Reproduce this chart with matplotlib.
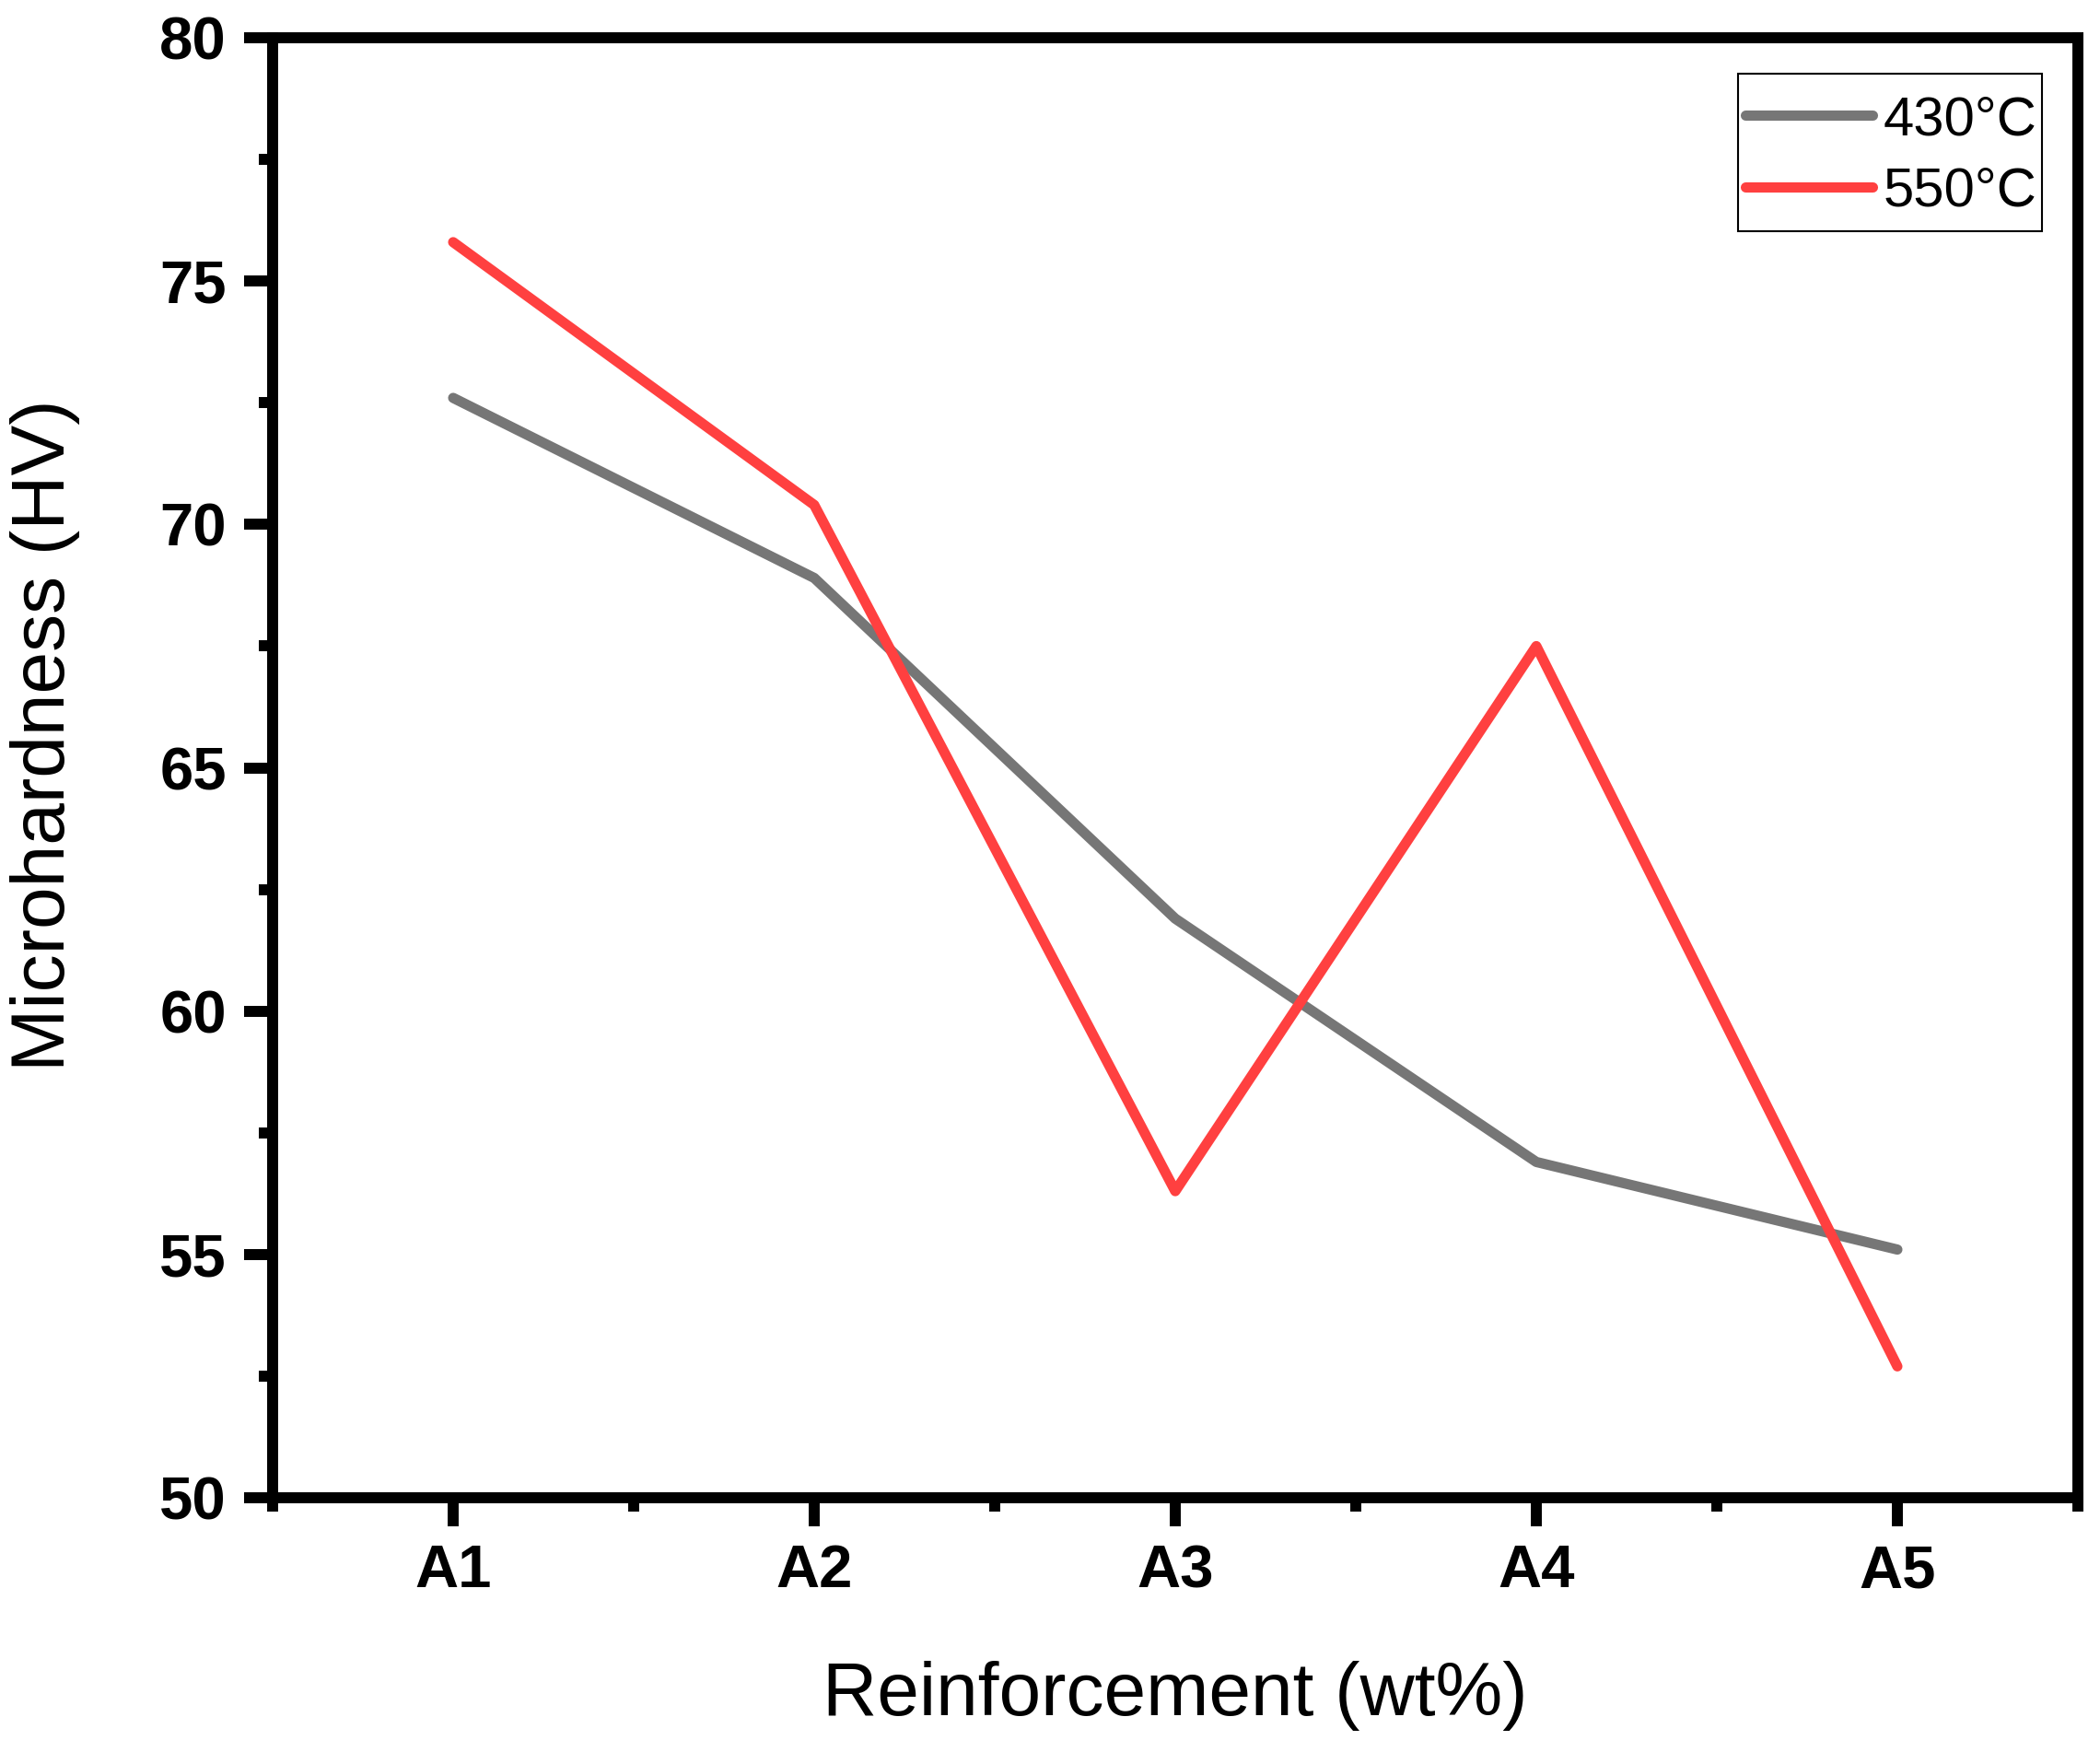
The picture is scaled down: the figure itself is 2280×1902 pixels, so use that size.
import matplotlib
matplotlib.use("Agg")
import matplotlib.pyplot as plt
from matplotlib.ticker import MultipleLocator, FixedLocator
from matplotlib.patches import Rectangle

categories = ["A1", "A2", "A3", "A4", "A5"]
hv_430 = [72.6, 68.9, 61.9, 56.9, 55.1]
hv_550 = [75.8, 70.4, 56.3, 67.5, 52.7]
series_labels = ["430\u00b0C", "550\u00b0C"]
yticks = [50, 55, 60, 65, 70, 75, 80]

plt.rcParams['font.family'] = ['Liberation Sans', 'DejaVu Sans']

W, H = 2280, 1902
fig = plt.figure(figsize=(W / 100, H / 100), dpi=100)
ax = fig.add_axes([296 / W, 1 - 1626 / H, (2256 - 296) / W, (1626 - 41) / H])

x = list(range(1, len(categories) + 1))
ax.plot(x, hv_430, color="#767676", lw=8, solid_capstyle="round",
        solid_joinstyle="round", label=series_labels[0])
ax.plot(x, hv_550, color="#FF4040", lw=8, solid_capstyle="round",
        solid_joinstyle="round", label=series_labels[1])

ax.set_xlim(0.5, 5.5)
ax.set_ylim(50, 80)
ax.set_xticks(x)
ax.set_xticklabels(categories)
ax.xaxis.set_minor_locator(FixedLocator([0.5, 1.5, 2.5, 3.5, 4.5, 5.5]))
ax.set_yticks(yticks)
ax.yaxis.set_minor_locator(MultipleLocator(2.5))

for s in ax.spines.values():
    s.set_linewidth(8.6)
    s.set_color("black")

ax.tick_params(which="major", direction="out", length=22, width=8.6,
               labelsize=47, pad=14, top=False, right=False)
ax.tick_params(which="minor", direction="out", length=11, width=8.6,
               top=False, right=False)
for lab in ax.get_xticklabels() + ax.get_yticklabels():
    lab.set_fontweight("bold")

fig.text(1276 / W, 1 - 1862 / H, "Reinforcement (wt%)", fontsize=59,
         ha="center", va="baseline")
fig.text(49.5 / W, 1 - 798 / H, "Microhardness (HV)", fontsize=59,
         rotation=90, ha="center", va="center")

# legend entries (frame drawn separately)
ax.legend(loc="center left", bbox_to_anchor=((1894.5 - 296) / 1960, (1626 - 169.5) / 1585),
          borderaxespad=0, fontsize=43, handlelength=2.32, handletextpad=0.2,
          labelspacing=0.38, borderpad=0, frameon=False)

# legend frame
fx0, fx1 = (1887 - 296) / 1960, (2217 - 296) / 1960
fy0, fy1 = (1626 - 251) / 1585, (1626 - 80) / 1585
ax.add_patch(Rectangle((fx0, fy0), fx1 - fx0, fy1 - fy0, transform=ax.transAxes,
                       fill=False, edgecolor="black", linewidth=1.5, zorder=5))

fig.savefig("out.png", dpi=100)
